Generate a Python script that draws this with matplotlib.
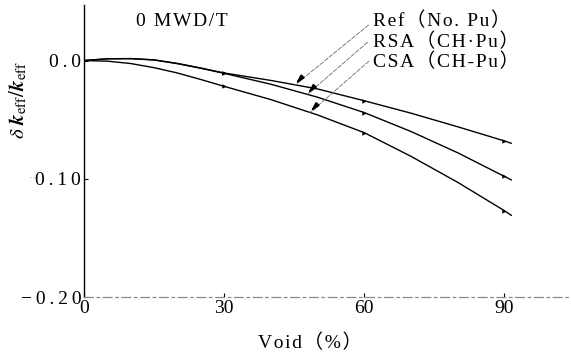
import numpy as np
import matplotlib
matplotlib.use("Agg")
import matplotlib.pyplot as plt

# Void fraction (%) and reactivity change δk_eff/k_eff for each model
void = [0, 5, 10, 15, 20, 25, 30, 40, 50, 60, 70, 80, 90, 91.5]
ref_no_pu = [0.0, 0.0015, 0.0017, 0.0006, -0.0024, -0.0063, -0.0105, -0.0168,
             -0.024, -0.034, -0.0445, -0.056, -0.068, -0.070]
rsa_ch_pu = [0.0, 0.0015, 0.0016, 0.0005, -0.0026, -0.0065, -0.0108, -0.020,
             -0.031, -0.044, -0.060, -0.078, -0.098, -0.101]
csa_ch_pu = [0.0, -0.0005, -0.0025, -0.006, -0.0105, -0.016, -0.0218, -0.033,
             -0.046, -0.061, -0.081, -0.103, -0.127, -0.131]

series_labels = ["Ref（No. Pu）", "RSA（CH·Pu）", "CSA（CH-Pu）"]
marked_voids = [30, 60, 90]

x_ticks = [0, 30, 60, 90]
x_tick_labels = ["0", "30", "60", "90"]
y_ticks = [-0.20, -0.10, 0.0]
y_tick_labels = ["−0.20", "0.10", "0.0"]

title_text = "0 MWD/T"
x_label = "Void（%）"

SERIF = ["Liberation Serif", "Noto Sans CJK JP", "DejaVu Sans"]
HAIR = "\u200a"
THIN = "\u2009"


def tracked(s, gap=HAIR):
    """Letter-spaced version of a string (wide typesetting)."""
    return gap.join(s)


fig = plt.figure(figsize=(5.71, 3.57), dpi=100)
ax = fig.add_axes([0.147, 0.168, 0.851, 0.818])

series = [ref_no_pu, rsa_ch_pu, csa_ch_pu]
mark_idx = [void.index(v) for v in marked_voids]
for ys in series:
    ax.plot(void, ys, color="black", lw=1.0, solid_capstyle="round",
            marker=">", markersize=3.2, markevery=mark_idx,
            markerfacecolor="black", markeredgewidth=0)

ax.set_xlim(0, 104)
ax.set_ylim(-0.20, 0.047)

ax.set_xticks(x_ticks)
ax.set_xticklabels(x_tick_labels, family=SERIF, fontsize=14)
ax.set_yticks(y_ticks)
ax.set_yticklabels([tracked(t, THIN) for t in y_tick_labels],
                   family=SERIF, fontsize=14)
ax.tick_params(direction="in", length=3, width=0.8)
ax.tick_params(axis="y", pad=2)
ax.tick_params(axis="x", pad=2)

for side in ("top", "right"):
    ax.spines[side].set_visible(False)
ax.spines["left"].set_linewidth(1.0)
ax.spines["bottom"].set_color("#8a8a8a")
ax.spines["bottom"].set_linewidth(0.9)
ax.spines["bottom"].set_linestyle((0, (7, 3, 2, 3)))

# faint dash in front of the middle y tick label
ax.text(-0.098, -0.10, "··", transform=ax.get_yaxis_transform(),
        ha="right", va="center", color="#b0b0b0", fontsize=9)

ax.text(0.202, 0.943, tracked(title_text), transform=ax.transAxes,
        family=SERIF, fontsize=14, ha="center", va="center")

ax.set_xlabel(tracked(x_label), family=SERIF, fontsize=14)
ax.xaxis.set_label_coords(0.466, -0.124)

fig.text(0.032, 0.72, r"$\delta\ \mathbfit{k}_{\rm eff}/\mathbfit{k}_{\rm eff}$",
         rotation=90, ha="center", va="center", fontsize=15,
         math_fontfamily="stix")

# Labels with leader arrows pointing at their curves
label_pos = [(61.8, 0.0335), (61.8, 0.0155), (61.8, -0.0015)]
leader_start = [(60.9, 0.030), (60.7, 0.0155), (61.0, -0.0005)]
leader_void = [45.2, 47.8, 48.4]
for lab, (lx, ly), (sx, sy), tv, ys in zip(series_labels, label_pos,
                                          leader_start, leader_void, series):
    ax.text(lx, ly, tracked(lab), family=SERIF, fontsize=14,
            ha="left", va="center")
    ty = float(np.interp(tv, void, ys))
    ax.annotate("", xy=(tv, ty), xytext=(sx, sy),
                arrowprops=dict(arrowstyle="-", color="#6a6a6a", lw=0.6,
                                linestyle=(0, (5, 2)), shrinkA=0, shrinkB=0))
    ax.annotate("", xy=(tv, ty), xytext=(tv + 1.0, ty + 0.0045),
                arrowprops=dict(arrowstyle="-|>,head_length=0.5,head_width=0.12",
                                color="black", lw=1.4, shrinkA=0, shrinkB=0))

fig.savefig("out.png", dpi=100)
